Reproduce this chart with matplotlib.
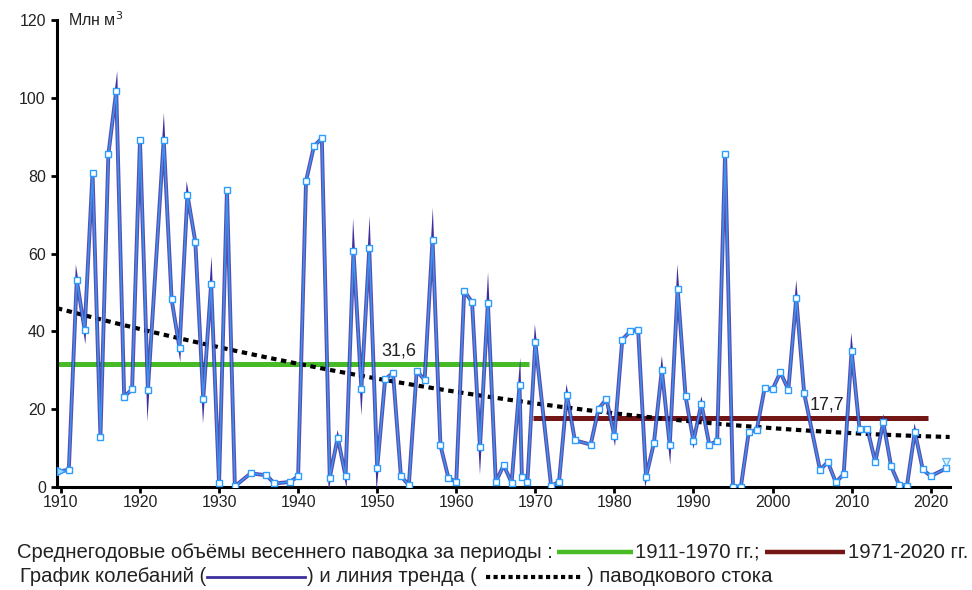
import numpy as np
import matplotlib
matplotlib.use('Agg')
import matplotlib.pyplot as plt
from matplotlib.lines import Line2D

plt.rcParams['font.family'] = ['Liberation Sans', 'DejaVu Sans']

# spring flood volume, mln m3 (years without a reading are left out)
years = [1910, 1911, 1912, 1913, 1914, 1915, 1916, 1917, 1918, 1919,
         1920, 1921, 1923, 1924, 1925, 1926, 1927, 1928, 1929,
         1930, 1931, 1932, 1934, 1936, 1937, 1939,
         1940, 1941, 1942, 1943, 1944, 1945, 1946, 1947, 1948, 1949,
         1950, 1951, 1952, 1953, 1954, 1955, 1956, 1957, 1958, 1959,
         1960, 1961, 1962, 1963, 1964, 1965, 1966, 1967, 1968, 1968.3, 1969,
         1970, 1972, 1973, 1974, 1975, 1977, 1978, 1979,
         1980, 1981, 1982, 1983, 1984, 1985, 1986, 1987, 1988, 1989,
         1990, 1991, 1992, 1993, 1994, 1995, 1996, 1997, 1998, 1999,
         2000, 2001, 2002, 2003, 2004, 2006, 2007, 2008, 2009,
         2010, 2011, 2012, 2013, 2014, 2015, 2016, 2017, 2018, 2019,
         2020, 2022]
volume = [4.1, 4.4, 53.3, 40.4, 80.8, 12.9, 85.5, 101.8, 23.2, 25.1,
          89.1, 24.9, 89.3, 48.2, 35.7, 75.1, 63.0, 22.7, 52.2,
          0.9, 76.4, 0.2, 3.5, 3.0, 0.9, 1.3,
          2.8, 78.6, 87.6, 89.6, 2.4, 12.7, 2.8, 60.7, 25.2, 61.3,
          4.9, 27.7, 29.3, 2.8, 0.5, 29.9, 27.5, 63.6, 10.7, 2.4,
          1.3, 50.4, 47.5, 10.2, 47.4, 1.3, 5.6, 1.1, 26.1, 2.6, 1.4,
          37.2, 0.2, 1.4, 23.6, 12.0, 10.9, 20.1, 22.6,
          13.1, 37.9, 40.0, 40.4, 2.6, 11.3, 30.1, 10.7, 51.0, 23.3,
          11.8, 21.4, 10.9, 11.8, 85.7, 0.1, 0.1, 14.2, 14.6, 25.4,
          25.1, 29.5, 25.0, 48.6, 24.1, 4.4, 6.4, 1.2, 3.3,
          35.0, 14.9, 14.9, 6.4, 16.7, 5.3, 0.6, 0.3, 14.2, 4.5,
          2.8, 4.8]
extra_year, extra_value = 2022, 6.5

# trend readings (second-order polynomial trend)
trend_years = [1909.5, 1930.1, 1949.0, 1953.7, 1970.0, 2000.0, 2022.4]
trend_values = [45.7, 36.3, 28.3, 26.4, 21.4, 14.9, 13.0]

# period means
mean_periods = [(1909.5, 1969.2), (1969.7, 2019.7)]
mean_values = [31.6, 17.7]
mean_colors = ['#46bb26', '#731616']
mean_labels = ['31,6', '17,7']
mean_label_x = [1952.7, 2006.9]

PURPLE = '#3d2f9e'
BLUE = '#3a93f2'
MARK = '#2c9cff'

fig = plt.figure(figsize=(9.72, 5.9), dpi=100)
ax = fig.add_axes([0.0586, 0.1746, 0.9184, 0.7914])
ax.set_xlim(1909.5, 2022.4)
ax.set_ylim(0, 120)

x = np.array(years, dtype=float)
y = np.array(volume)

for (x0, x1), v, c in zip(mean_periods, mean_values, mean_colors):
    ax.plot([x0, x1], [v, v], color=c, lw=3.6, solid_capstyle='butt', zorder=2)

coef = np.polyfit(trend_years, trend_values, 2)
tx = np.linspace(trend_years[0], trend_years[-1], 300)
ax.plot(tx, np.polyval(coef, tx), color='black', lw=3.0,
        dashes=(1.3, 1.1), dash_capstyle='butt', zorder=3)

# mitred corners of the outer line (bevel beyond the miter limit), in pixel space
w_px = 3.0
miter_limit = 23.0
pts = ax.transData.transform(np.column_stack([x, y]))
inv = ax.transData.inverted()
for i in range(1, len(pts) - 1):
    u = pts[i - 1] - pts[i]
    v = pts[i + 1] - pts[i]
    u = u / np.hypot(*u)
    v = v / np.hypot(*v)
    s = u + v
    ns = np.hypot(*s)
    if ns < 1e-6:
        continue
    half = np.arccos(np.clip(np.dot(u, v), -1, 1)) / 2
    ratio = 1.0 / max(np.sin(half), 1e-9)
    if ratio > miter_limit or ratio < 5:
        continue
    L = ratio * w_px / 2
    b = -s / ns
    perp = np.array([-b[1], b[0]])
    tri = np.array([pts[i] + b * L, pts[i] + perp * w_px / 2, pts[i] - perp * w_px / 2])
    tri = inv.transform(tri)
    ax.fill(tri[:, 0], tri[:, 1], color=PURPLE, lw=0, zorder=4)

ax.plot(x, y, color=PURPLE, lw=2.8, alpha=0.85, zorder=4)
ax.plot(x, y, color=BLUE, lw=1.1, solid_joinstyle='round', zorder=5)
ax.plot(x[1:], y[1:], ls='none', marker='s', ms=3.8, mfc='white', mec=MARK,
        mew=1.0, zorder=6)
ax.plot(x[:1], y[:1], ls='none', marker='>', ms=6, mfc='#9fd6ff', mec=MARK,
        mew=1.0, zorder=6, clip_on=False)
ax.plot([extra_year], [extra_value], ls='none', marker='v', ms=6, mfc='#dff1ff',
        mec='#6bbcf5', mew=1.0, zorder=6, clip_on=False)

for xl, v, t in zip(mean_label_x, mean_values, mean_labels):
    ax.text(xl, v + 1.2, t, ha='center', va='bottom', fontsize=13, color='#222222')

ax.set_xticks(range(1910, 2021, 10))
ax.set_yticks(range(0, 121, 20))
for s in ['top', 'right']:
    ax.spines[s].set_visible(False)
for s in ['left', 'bottom']:
    ax.spines[s].set_linewidth(2.2)
ax.tick_params(direction='out', length=4, width=2, labelsize=11.5, pad=2,
               labelcolor='#222222')
ax.tick_params(axis='y', pad=4)
ax.text(0.012, 120, 'Млн м$^3$', transform=ax.get_yaxis_transform(),
        ha='left', va='center', fontsize=11.5, color='#222222')

# legend rows under the axes
W, H = 972.0, 590.0
fs = 14.6
def ftxt(px, py, s):
    fig.text(px / W, 1 - py / H, s, ha='left', va='center', fontsize=fs, color='#222222')

def fline(px0, px1, py, **kw):
    fig.add_artist(Line2D([px0 / W, px1 / W], [1 - py / H, 1 - py / H],
                          transform=fig.transFigure, **kw))

ftxt(17, 552, 'Среднегодовые объёмы весеннего паводка за периоды :')
fline(557, 633, 552, color=mean_colors[0], lw=3.2, solid_capstyle='butt')
ftxt(635, 552, '1911-1970 гг.;')
fline(765, 845, 552, color=mean_colors[1], lw=3.2, solid_capstyle='butt')
ftxt(848, 552, '1971-2020 гг.')

ftxt(20, 577, 'График колебаний (')
fline(207, 305, 577, color=PURPLE, lw=2.0)
ftxt(307, 577, ') и линия тренда (')
fline(486, 582, 577, color='black', lw=3.0, dashes=(1.0, 0.8), dash_capstyle='butt')
ftxt(587, 577, ') паводкового стока')

fig.savefig('out.png', dpi=100)
